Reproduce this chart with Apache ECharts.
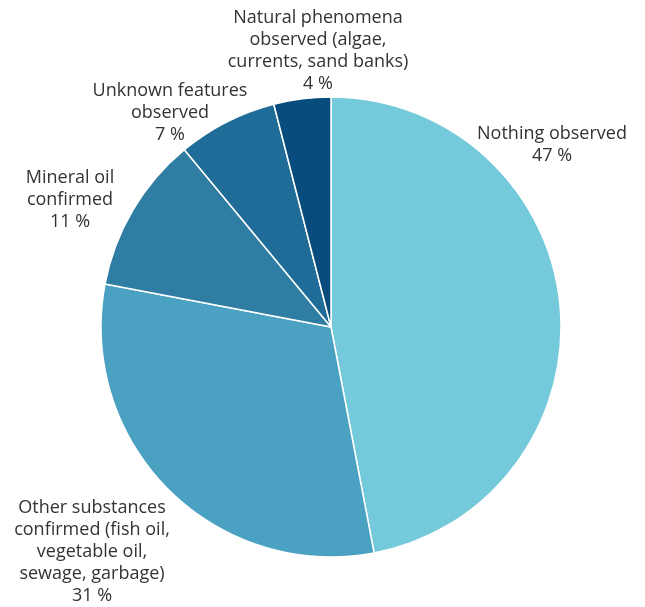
<!DOCTYPE html>
<html>
<head>
<meta charset="utf-8">
<script src="https://cdn.jsdelivr.net/npm/echarts@6/dist/echarts.min.js"></script>
<style>
  html, body { margin: 0; padding: 0; background: #fff; }
  #chart { width: 645px; height: 607px; }
</style>
</head>
<body>
<div id="chart"></div>
<script>
// categories and values (percent)
var categories = [
    'Nothing observed',
    'Other substances\nconfirmed (fish oil,\nvegetable oil,\nsewage, garbage)',
    'Mineral oil\nconfirmed',
    'Unknown features\nobserved',
    'Natural phenomena\nobserved (algae,\ncurrents, sand banks)'
];
var values = [47, 31, 11, 7, 4];
var sliceColors = ['#74c9da', '#4ba1c1', '#2f7da3', '#1e6c97', '#074c7d'];
// where each label sits (centre of text block)
var labelPos = [[552, 145], [92, 552], [70, 200], [170, 113], [318, 51]];

var chart = echarts.init(document.getElementById('chart'));

var pieData = [];
for (var i = 0; i < categories.length; i++) {
    pieData.push({ name: categories[i], value: values[i], itemStyle: { color: sliceColors[i] } });
}

var option = {
    animation: false,
    series: [{
        type: 'pie',
        center: [331, 327],
        radius: [0, 230],
        startAngle: 90,
        clockwise: true,
        data: pieData,
        itemStyle: {
            borderColor: '#fff',
            borderWidth: 1.5
        },
        label: {
            show: true,
            position: 'outside',
            formatter: function (p) { return p.name + '\n' + p.value + ' %'; },
            fontFamily: 'Open Sans',
            fontSize: 18,
            lineHeight: 22,
            color: '#333',
            align: 'center',
            overflow: 'none'
        },
        labelLine: { show: false },
        labelLayout: function (params) {
            var pos = labelPos[params.dataIndex];
            return { x: pos[0], y: pos[1], align: 'center', verticalAlign: 'middle' };
        },
        emphasis: { disabled: true }
    }]
};

chart.setOption(option);
</script>
</body>
</html>
